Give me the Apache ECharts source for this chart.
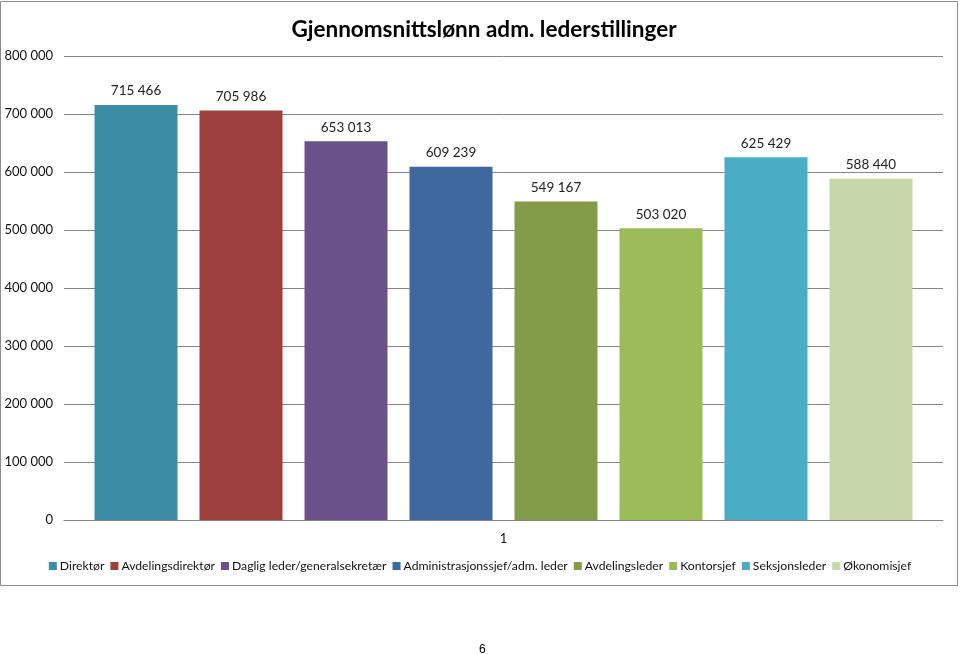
<!DOCTYPE html>
<html>
<head>
<meta charset="utf-8">
<script src="https://cdn.jsdelivr.net/npm/echarts@6/dist/echarts.min.js"></script>
<style>
html,body{margin:0;padding:0;background:#fff;}
#chart{width:960px;height:654px;}
</style>
</head>
<body>
<div id="chart"></div>
<script>
var categories = ['1'];
var seriesNames = ['Direktør','Avdelingsdirektør','Daglig leder/generalsekretær','Administrasjonssjef/adm. leder','Avdelingsleder','Kontorsjef','Seksjonsleder','Økonomisjef'];
var seriesValues = [715466, 705986, 653013, 609239, 549167, 503020, 625429, 588440];
var seriesColors = ['#3D8CA5','#9E413E','#6B5189','#3F699E','#829C4A','#9CBB59','#4BACC6','#C6D8AA'];

function fmt(v){ return String(v).replace(/\B(?=(\d{3})+(?!\d))/g, ' '); }

var chart = echarts.init(document.getElementById('chart'));
var series = seriesNames.map(function(n,i){
  return {
    name: n, type: 'bar', data: [seriesValues[i]],
    barWidth: 83, barGap: '26.5%',
    itemStyle: {color: seriesColors[i]},
    label: {show: true, position: 'top', distance: 7, color: '#222', fontFamily: 'Lato', fontSize: 13.5,
      formatter: function(p){ return fmt(p.value); }}
  };
});
chart.setOption({
  animation: false,
  title: {text: 'Gjennomsnittslønn adm. lederstillinger', left: 479, top: 13, textAlign: 'center',
    textStyle: {fontFamily: 'Lato', fontWeight: 'bold', fontSize: 22.5, color: '#000'}},
  grid: {left: 64, right: 17, top: 56, bottom: 134},
  legend: {bottom: 77, left: 'center', itemWidth: 8, itemHeight: 8, itemGap: 6,
    icon: 'rect', textStyle: {fontFamily: 'Lato', fontSize: 12.2, color: '#111', padding: [0,0,0,-2]}},
  xAxis: {type: 'category', data: categories,
    axisLine: {lineStyle: {color: '#868686'}}, axisTick: {show: false},
    axisLabel: {fontFamily: 'Lato', fontSize: 13, color: '#111', margin: 12}},
  yAxis: {type: 'value', min: 0, max: 800000, interval: 100000,
    axisLine: {show: false}, axisTick: {show: false},
    splitLine: {lineStyle: {color: '#868686'}},
    axisLabel: {fontFamily: 'Lato', fontSize: 13, color: '#111', margin: 11, formatter: fmt}},
  series: series,
  graphic: [
    {type: 'rect', shape: {x: 0.5, y: 1.5, width: 957, height: 584}, style: {fill: null, stroke: '#8a8a8a', lineWidth: 1}, silent: true, z: -1},
    {type: 'text', left: 479, top: 644, style: {text: '6', font: '12px "Liberation Sans"', fill: '#000'}}
  ]
});
</script>
</body>
</html>
